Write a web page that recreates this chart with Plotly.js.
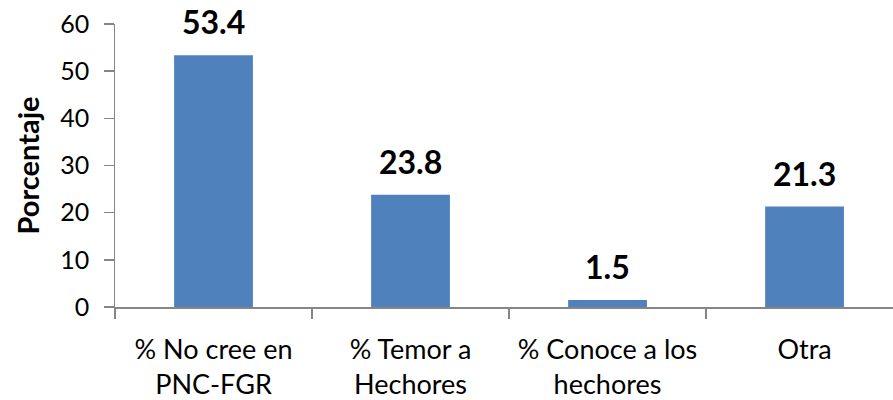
<!DOCTYPE html>
<html>
<head>
<meta charset="utf-8">
<script src="https://cdn.plot.ly/plotly-3.0.1.min.js"></script>
<style>html,body{margin:0;padding:0;background:#fff;}#chart{width:893px;height:400px;}</style>
</head>
<body>
<div id="chart"></div>
<script>
const categories = ["% No cree en<br>PNC-FGR", "% Temor a<br>Hechores", "% Conoce a los<br>hechores", "Otra"];
const values = [53.4, 23.8, 1.5, 21.3];
const valueLabels = ["53.4", "23.8", "1.5", "21.3"];
const yTicks = [0, 10, 20, 30, 40, 50, 60];

const FONT = "Lato, 'Open Sans', sans-serif";

const trace = {
  type: "bar",
  x: categories,
  y: values,
  width: 0.4,
  marker: {color: "#4F81BD"},
  hoverinfo: "none"
};

const annotations = categories.map((c, i) => ({
  x: c, y: values[i], text: "<b>" + valueLabels[i] + "</b>",
  showarrow: false, yanchor: "bottom", yshift: 12,
  font: {family: FONT, size: 32, color: "#000"}
}));

const pad = "<span style='font-size:16px;color:rgba(0,0,0,0)'>0</span>";

const layout = {
  width: 893, height: 400,
  margin: {l: 115, r: 0, t: 24, b: 93},
  paper_bgcolor: "#fff", plot_bgcolor: "#fff",
  showlegend: false,
  font: {family: FONT, size: 24, color: "#000"},
  xaxis: {
    type: "category",
    range: [-0.5, 3.449],
    showline: true, linecolor: "#868686", linewidth: 1.5,
    ticks: "outside", tickson: "boundaries", ticklen: 10, tickcolor: "#868686", tickwidth: 1.5,
    showgrid: false, zeroline: false,
    ticklabelstandoff: 18,
    tickfont: {family: FONT, size: 27, color: "#000"}
  },
  yaxis: {
    range: [0, 60],
    tickvals: yTicks,
    ticktext: yTicks.map(v => String(v) + pad),
    showline: true, linecolor: "#868686", linewidth: 1.5,
    ticks: "outside", ticklen: 10, tickcolor: "#868686", tickwidth: 1.5,
    showgrid: false, zeroline: false,
    tickfont: {family: FONT, size: 25, color: "#000"},
    title: {text: "<b>Porcentaje</b>", font: {family: FONT, size: 29, color: "#000"}, standoff: 12}
  },
  annotations: annotations
};

Plotly.newPlot("chart", [trace], layout, {staticPlot: true, displayModeBar: false});
</script>
</body>
</html>
